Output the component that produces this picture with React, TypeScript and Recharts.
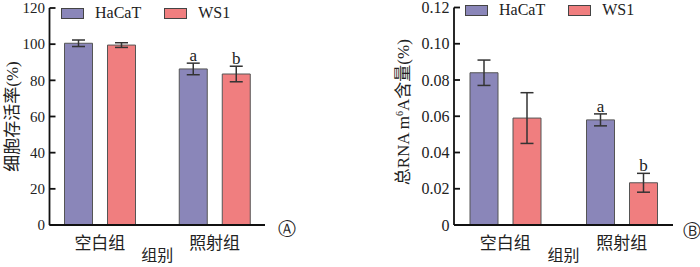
import React from "react";
import { Bar, BarChart, ErrorBar, LabelList, Legend, XAxis, YAxis } from "recharts";

const groups = ["空白组", "照射组"];

// A: cell viability (%)
const viabilityHaCaT = [100.5, 86.3];
const viabilityHaCaTErr = [1.8, 3.2];
const viabilityWS1 = [99.5, 83.5];
const viabilityWS1Err = [1.3, 4.3];

// B: total RNA m6A (%)
const m6aHaCaT = [0.084, 0.058];
const m6aHaCaTErr = [0.007, 0.0033];
const m6aWS1 = [0.059, 0.0233];
const m6aWS1Err = [0.014, 0.0052];

const hacatSig = ["", "a"];
const ws1Sig = ["", "b"];

const viabilityTicks = [0, 20, 40, 60, 80, 100, 120];
const m6aTicks = [0, 0.02, 0.04, 0.06, 0.08, 0.1, 0.12];

const PURPLE = "#8a86b9";
const RED = "#f07e7f";
const SERIF = "'Liberation Serif', 'Noto Sans CJK SC', serif";
const CJK = "'Noto Sans CJK SC', sans-serif";

const viabilityData = groups.map((g, i) => ({
  group: g,
  hacat: viabilityHaCaT[i],
  hacatErr: viabilityHaCaTErr[i],
  ws1: viabilityWS1[i],
  ws1Err: viabilityWS1Err[i],
  hacatSig: hacatSig[i],
  ws1Sig: ws1Sig[i],
}));

const m6aData = groups.map((g, i) => ({
  group: g,
  hacat: m6aHaCaT[i],
  hacatErr: m6aHaCaTErr[i],
  ws1: m6aWS1[i],
  ws1Err: m6aWS1Err[i],
  hacatSig: hacatSig[i],
  ws1Sig: ws1Sig[i],
}));

// letter above the error bar: px per unit taken from the bar itself
const sigLabel = (vals: number[], errs: number[]) => (props: any) => {
  const vb = props.viewBox ?? props;
  const i = props.index;
  if (!props.value) return null;
  const pxPerUnit = vb.height / vals[i];
  const top = vb.y - errs[i] * pxPerUnit;
  return (
    <text x={vb.x + vb.width / 2} y={top - 2} textAnchor="middle" fontSize={17} fontFamily={SERIF} fill="#222">
      {props.value}
    </text>
  );
};

const legendContent = () => (
  <div style={{ display: "flex", alignItems: "center", fontFamily: SERIF, fontSize: 16, color: "#222" }}>
    {[
      ["HaCaT", PURPLE],
      ["WS1", RED],
    ].map(([name, color], i) => (
      <div key={name} style={{ display: "flex", alignItems: "center", marginRight: i === 0 ? 23 : 0 }}>
        <span style={{ width: 21, height: 9, background: color, border: "1px solid #444", display: "inline-block", marginRight: 11 }} />
        <span>{name}</span>
      </div>
    ))}
  </div>
);

const xLabel = (props: any) => {
  const vb = props.viewBox;
  return (
    <text x={vb.x + vb.width / 2} y={254} textAnchor="middle" dominantBaseline="central" fontSize={16} fontFamily={CJK} fill="#222">
      组别
    </text>
  );
};

const yLabelA = (props: any) => {
  const vb = props.viewBox;
  const cx = 12;
  const cy = vb.y + vb.height / 2;
  return (
    <text x={cx} y={cy} transform={`rotate(-90 ${cx} ${cy})`} textAnchor="middle" dominantBaseline="central" fontSize={17} fontFamily={SERIF} fill="#222">
      细胞存活率(%)
    </text>
  );
};

const yLabelB = (props: any) => {
  const vb = props.viewBox;
  const cx = 53;
  const cy = vb.y + vb.height / 2 - 4;
  return (
    <text x={cx} y={cy} transform={`rotate(-90 ${cx} ${cy})`} textAnchor="middle" fontSize={17} fontFamily={SERIF} fill="#222">
      <tspan dy={6}>总RNA m</tspan>
      <tspan fontSize={10} dy={-6}>6</tspan>
      <tspan dy={6}>A含量(%)</tspan>
    </text>
  );
};

const axisStroke = { stroke: "#111", strokeWidth: 1.8 };

const Panel = ({ data, domain, ticks, fmt, width, yWidth, right, top, fontSize, yLabel, vals, legendTop, legendLeft }: any) => (
  <BarChart width={width} height={267} data={data} margin={{ top, right, bottom: 0, left: 0 }} barSize={28} barGap={15}>
    <XAxis
      dataKey="group"
      height={42}
      padding={{ left: -7, right: -7 }}
      tickLine={false}
      tickSize={0}
      tickMargin={12}
      axisLine={axisStroke}
      tick={{ fontSize: 17, fontFamily: CJK, fill: "#222" }}
      label={{ content: xLabel }}
    />
    <YAxis
      width={yWidth}
      domain={domain}
      ticks={ticks}
      interval={0}
      tickFormatter={fmt}
      tickSize={-6}
      tickMargin={10.5}
      axisLine={axisStroke}
      tickLine={axisStroke}
      tick={{ fontSize, fontFamily: SERIF, fill: "#222" }}
      label={{ content: yLabel }}
    />
    <Legend
      layout="horizontal"
      verticalAlign="middle"
      align="center"
      content={legendContent}
      wrapperStyle={{ top: legendTop, left: legendLeft, width: "auto" }}
    />
    <Bar dataKey="hacat" fill={PURPLE} stroke="#555" strokeWidth={1} isAnimationActive={false}>
      <ErrorBar dataKey="hacatErr" width={6.5} stroke="#333" strokeWidth={1.5} direction="y" />
      <LabelList dataKey="hacatSig" content={sigLabel(vals[0], vals[1])} />
    </Bar>
    <Bar dataKey="ws1" fill={RED} stroke="#555" strokeWidth={1} isAnimationActive={false}>
      <ErrorBar dataKey="ws1Err" width={6.5} stroke="#333" strokeWidth={1.5} direction="y" />
      <LabelList dataKey="ws1Sig" content={sigLabel(vals[2], vals[3])} />
    </Bar>
  </BarChart>
);

const App = () => {
  return (
    <div style={{ position: "absolute", left: 0, top: 0, width: 700, height: 267, background: "#fff" }}>
      <div style={{ position: "absolute", left: 0, top: 0 }}>
        <Panel
          data={viabilityData}
          domain={[0, 120]}
          ticks={viabilityTicks}
          fmt={(v: number) => String(v)}
          width={350}
          yWidth={49.5}
          right={85}
          top={8}
          fontSize={15}
          yLabel={yLabelA}
          vals={[viabilityHaCaT, viabilityHaCaTErr, viabilityWS1, viabilityWS1Err]}
          legendTop={4}
          legendLeft={61}
        />
      </div>
      <div style={{ position: "absolute", left: 350, top: 0 }}>
        <Panel
          data={m6aData}
          domain={[0, 0.12]}
          ticks={m6aTicks}
          fmt={(v: number) => (v === 0 ? "0" : v.toFixed(2))}
          width={350}
          yWidth={104}
          right={27}
          top={7.5}
          fontSize={16}
          yLabel={yLabelB}
          vals={[m6aHaCaT, m6aHaCaTErr, m6aWS1, m6aWS1Err]}
          legendTop={1}
          legendLeft={115}
        />
      </div>
      <span style={{ position: "absolute", left: 278, top: 218, fontSize: 18, fontFamily: "'DejaVu Sans'", color: "#222", lineHeight: "22px" }}>Ⓐ</span>
      <span style={{ position: "absolute", left: 683, top: 220, fontSize: 18, fontFamily: "'DejaVu Sans'", color: "#222", lineHeight: "22px" }}>Ⓑ</span>
    </div>
  );
};

export default App;
